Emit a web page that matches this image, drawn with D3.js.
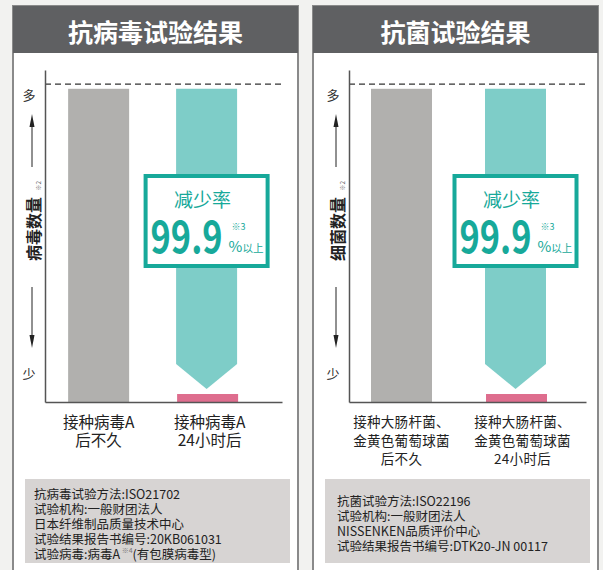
<!DOCTYPE html>
<html>
<head>
<meta charset="utf-8">
<script src="https://cdn.jsdelivr.net/npm/d3@7"></script>
<style>
  body { margin: 0; background: #f2f2f0; }
  svg text { font-family: "Noto Sans CJK SC", "Noto Sans", sans-serif; }
</style>
</head>
<body>
<div id="chart"></div>
<script>
// data
const titles = ['抗病毒试验结果', '抗菌试验结果'];
const yTitles = ['病毒数量', '细菌数量'];
const yTopLabel = '多';
const yBottomLabel = '少';
const virusCategories = [['接种病毒A', '后不久'], ['接种病毒A', '24小时后']];
const bacteriaCategories = [['接种大肠杆菌、', '金黄色葡萄球菌', '后不久'], ['接种大肠杆菌、', '金黄色葡萄球菌', '24小时后']];
const beforeValues = [100, 100];
const afterValues = [2.55, 2.55];
const referenceLevel = 101.5;
const reductionRate = '99.9';
const virusNotes = ['抗病毒试验方法:ISO21702', '试验机构:一般财团法人', '日本纤维制品质量技术中心', '试验结果报告书编号:20KB061031', '试验病毒:病毒A'];
const bacteriaNotes = ['抗菌试验方法:ISO22196', '试验机构:一般财团法人', 'NISSENKEN品质评价中心', '试验结果报告书编号:DTK20-JN 00117'];

const w = 603;
const h = 570;

const svg = d3.select('#chart')
    .append('svg')
    .attr('width', w)
    .attr('height', h);

const panels = [
    { left: 13, right: 298, axisX: 45, axisEnd: 282, pi: 0.435, po: 0.315, align: 0.34,
      cats: virusCategories, notes: virusNotes, noteX: 34, noteY: 493, boxX: 25, boxW: 265,
      labelGap: 18, labelShift: 3, labelSize: 15.5, labelSpacing: 0 },
    { left: 313, right: 598, axisX: 349, axisEnd: 586, pi: 0.465, po: 0.272, align: 0.355,
      cats: bacteriaCategories, notes: bacteriaNotes, noteX: 337, noteY: 500, boxX: 325, boxW: 265,
      labelGap: 18.5, labelShift: 7, labelSize: 13.5, labelSpacing: 0.3 }
];

const teal = '#7ecdc8';
const darkTeal = '#17a99a';

panels.forEach((p, i) => {
    const g = svg.append('g');

    // panel frame
    g.append('rect')
        .attr('x', p.left).attr('y', 6)
        .attr('width', p.right - p.left).attr('height', h)
        .attr('fill', '#fff')
        .attr('stroke', '#8a8a8a')
        .attr('stroke-width', 2);

    g.append('rect')
        .attr('x', p.left).attr('y', 6)
        .attr('width', p.right - p.left).attr('height', 47)
        .attr('fill', '#5f6062');

    g.append('text')
        .attr('x', (p.left + p.right) / 2)
        .attr('y', 31)
        .attr('text-anchor', 'middle')
        .attr('dominant-baseline', 'central')
        .attr('fill', '#fff')
        .attr('font-size', 25)
        .attr('font-weight', 'bold')
        .text(titles[i]);

    // scales
    const y = d3.scaleLinear().domain([0, 106]).range([402, 70]);
    const x = d3.scaleBand()
        .domain(d3.range(p.cats.length))
        .range([p.axisX, p.axisEnd])
        .paddingInner(p.pi)
        .paddingOuter(p.po)
        .align(p.align);

    // reference dashed line
    g.append('line')
        .attr('x1', p.axisX).attr('x2', p.axisEnd + 1)
        .attr('y1', y(referenceLevel)).attr('y2', y(referenceLevel))
        .attr('stroke', '#333')
        .attr('stroke-width', 1.2)
        .attr('stroke-dasharray', '6,4');

    // before bar (gray)
    g.append('rect')
        .attr('x', x(0))
        .attr('y', y(beforeValues[i]))
        .attr('width', x.bandwidth())
        .attr('height', y(0) - y(beforeValues[i]))
        .attr('fill', '#b1b0ae');

    // reduction arrow (teal)
    const bx = x(1);
    const bw = x.bandwidth();
    const tip = y(afterValues[i]) - 5;
    const shaft = tip - 25;
    g.append('path')
        .attr('d', `M${bx},${y(beforeValues[i])}H${bx + bw}V${shaft}L${bx + bw / 2},${tip}L${bx},${shaft}Z`)
        .attr('fill', teal);

    // after bar (pink)
    g.append('rect')
        .attr('x', bx + 1)
        .attr('y', y(afterValues[i]))
        .attr('width', bw)
        .attr('height', y(0) - y(afterValues[i]))
        .attr('fill', '#de6d8e');

    // axes
    g.append('g')
        .attr('transform', `translate(${p.axisX},0)`)
        .call(d3.axisLeft(y).tickValues([]).tickSizeOuter(0))
        .select('.domain').attr('stroke', '#555').attr('stroke-width', 1.5);

    g.append('g')
        .attr('transform', `translate(0,${y(0)})`)
        .call(d3.axisBottom(x).tickValues([]).tickSizeOuter(0))
        .select('.domain').attr('stroke', '#555').attr('stroke-width', 1.5);

    // y labels
    const lx = p.axisX - 16;
    g.append('text').attr('x', lx).attr('y', 94)
        .attr('text-anchor', 'middle').attr('dominant-baseline', 'central')
        .attr('font-size', 13).attr('fill', '#333').text(yTopLabel);
    g.append('text').attr('x', lx).attr('y', 373)
        .attr('text-anchor', 'middle').attr('dominant-baseline', 'central')
        .attr('font-size', 13).attr('fill', '#333').text(yBottomLabel);

    // vertical arrows
    g.append('line').attr('x1', lx + 3).attr('x2', lx + 3).attr('y1', 167).attr('y2', 122)
        .attr('stroke', '#222').attr('stroke-width', 1);
    g.append('path').attr('d', `M${lx + 3},114L${lx + 5.5},127L${lx + 0.5},127Z`).attr('fill', '#222');
    g.append('line').attr('x1', lx + 3).attr('x2', lx + 3).attr('y1', 287).attr('y2', 340)
        .attr('stroke', '#222').attr('stroke-width', 1);
    g.append('path').attr('d', `M${lx + 3},348L${lx + 5.5},335L${lx + 0.5},335Z`).attr('fill', '#222');

    g.append('text')
        .attr('transform', `translate(${lx + 4},229) rotate(-90)`)
        .attr('text-anchor', 'middle').attr('dominant-baseline', 'central')
        .attr('font-size', 16).attr('font-weight', 'bold').attr('fill', '#222')
        .text(yTitles[i]);
    g.append('text')
        .attr('transform', `translate(${lx + 9},186) rotate(-90)`)
        .attr('text-anchor', 'middle').attr('dominant-baseline', 'central')
        .attr('font-size', 6.5).attr('fill', '#666')
        .text('※2');

    // category labels
    p.cats.forEach((lines, ci) => {
        const cx = x(ci) + x.bandwidth() / 2 + (ci === 1 ? p.labelShift : 0);
        lines.forEach((t, li) => {
            g.append('text')
                .attr('x', cx)
                .attr('y', 421 + li * p.labelGap)
                .attr('text-anchor', 'middle')
                .attr('dominant-baseline', 'central')
                .attr('font-size', p.labelSize)
                .attr('letter-spacing', p.labelSpacing)
                .attr('fill', '#222')
                .text(t);
        });
    });

    // reduction box
    const cx = bx + bw / 2;
    const box = g.append('g').attr('transform', `translate(${cx},174)`);
    box.append('rect')
        .attr('x', -61).attr('y', 2)
        .attr('width', 122).attr('height', 90)
        .attr('fill', '#fff')
        .attr('stroke', darkTeal)
        .attr('stroke-width', 4);
    box.append('text')
        .attr('x', -4).attr('y', 24)
        .attr('text-anchor', 'middle').attr('dominant-baseline', 'central')
        .attr('font-size', 19).attr('fill', darkTeal)
        .text('减少率');

    // big number, squeezed horizontally to the narrow width of the original
    const num = box.append('text')
        .attr('x', 0).attr('y', 0)
        .attr('font-family', 'Roboto, sans-serif')
        .attr('font-size', 44).attr('font-weight', 'bold').attr('fill', darkTeal)
        .text(reductionRate);
    const natural = num.node().getComputedTextLength() || 85;
    num.attr('transform', `translate(-56,79) scale(${72 / natural},1)`);

    box.append('text')
        .attr('x', 25).attr('y', 56)
        .attr('font-size', 9).attr('fill', darkTeal)
        .text('※3');
    const pct = box.append('text')
        .attr('x', 22).attr('y', 78)
        .attr('fill', darkTeal);
    pct.append('tspan').attr('font-size', 15).text('%');
    pct.append('tspan').attr('font-size', 10.5).text('以上');

    // notes box
    g.append('rect')
        .attr('x', p.boxX).attr('y', 479)
        .attr('width', p.boxW).attr('height', 84)
        .attr('fill', '#d7d4d3');
    p.notes.forEach((t, ni) => {
        const tx = g.append('text')
            .attr('x', p.noteX)
            .attr('y', p.noteY + ni * 15)
            .attr('dominant-baseline', 'central')
            .attr('font-size', 12.5)
            .attr('fill', '#222')
            .text(t);
        if (i === 0 && ni === p.notes.length - 1) {
            tx.append('tspan').attr('font-size', 7).attr('dy', -3).attr('fill', '#777').text(' ※4');
            tx.append('tspan').attr('dy', 3).text('(有包膜病毒型)');
        }
    });
});
</script>
</body>
</html>
